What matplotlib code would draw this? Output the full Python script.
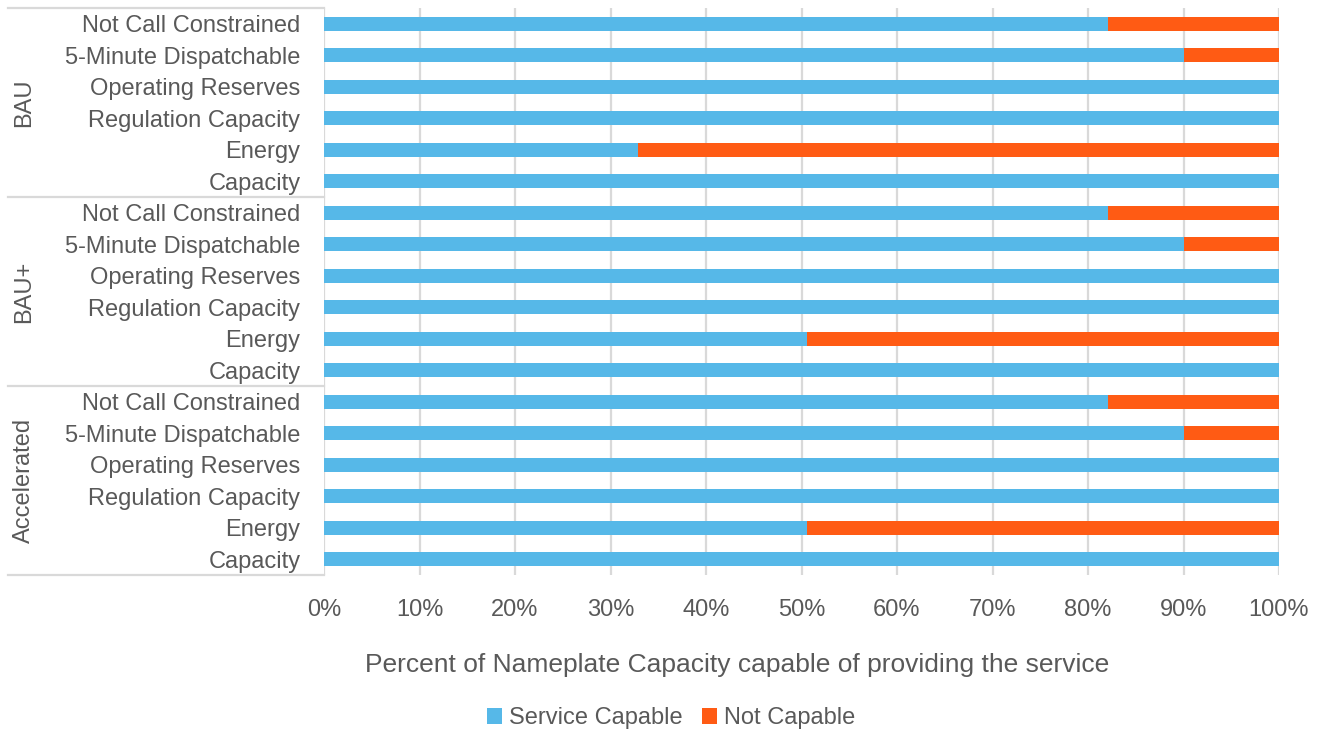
import matplotlib.pyplot as plt
from matplotlib.transforms import blended_transform_factory

plt.rcParams['font.family'] = ['Liberation Sans', 'DejaVu Sans']

groups = ["BAU", "BAU+", "Accelerated"]
services = ["Not Call Constrained", "5-Minute Dispatchable", "Operating Reserves",
            "Regulation Capacity", "Energy", "Capacity"]
capable = {
    "BAU":         [82.1, 90.0, 100, 100, 32.9, 100],
    "BAU+":        [82.1, 90.0, 100, 100, 50.6, 100],
    "Accelerated": [82.1, 90.0, 100, 100, 50.6, 100],
}
ticks = list(range(0, 101, 10))

blue = '#56B8E8'
orange = '#FF5B14'
txt = '#595959'
grid = '#d9d9d9'
fs = 17

fig = plt.figure(figsize=(13.2, 7.3), dpi=100)
ax = fig.add_axes([324/1320, 1-575/730, 955/1320, 567/730])

labels, cap, notcap = [], [], []
for g in groups:
    for s, v in zip(services, capable[g]):
        labels.append(s)
        cap.append(v)
        notcap.append(100 - v)
ypos = list(range(len(labels)))

ax.barh(ypos, cap, height=0.45, color=blue, label='Service Capable', zorder=3)
ax.barh(ypos, notcap, left=cap, height=0.45, color=orange, label='Not Capable', zorder=3)

ax.set_ylim(len(labels) - 0.5, -0.5)
ax.set_xlim(0, 100)
ax.set_xticks(ticks)
ax.set_xticklabels([f"{t}%" for t in ticks])
ax.set_yticks(ypos)
ax.set_yticklabels(labels)
ax.tick_params(axis='x', length=0, pad=17, labelsize=fs, labelcolor=txt)
ax.tick_params(axis='y', length=0, pad=17, labelsize=fs, labelcolor=txt)
for sp in ax.spines.values():
    sp.set_visible(False)
for t in ticks:
    ax.axvline(t, color=grid, lw=1.6, zorder=1)

# multi-level category axis on the left
tr = blended_transform_factory(ax.transAxes, ax.transData)
x0 = (8 - 324) / 955
n = len(services)
for i in range(len(groups) + 1):
    y = i * n - 0.5
    ax.plot([x0, 0], [y, y], color=grid, lw=1.6, transform=tr, clip_on=False)
for i, g in enumerate(groups):
    ax.text((24 - 324) / 955, i * n + (n - 1) / 2, g, transform=tr, rotation=90,
            ha='center', va='center', fontsize=fs, color=txt)

fig.text(737/1320, 1-665/730, "Percent of Nameplate Capacity capable of providing the service",
         ha='center', va='center', fontsize=19, color=txt)
leg = fig.legend(loc='center', bbox_to_anchor=(671/1320, 1-718/730), ncol=2, frameon=False,
                 fontsize=fs, handlelength=0.65, handleheight=0.65, handletextpad=0.3,
                 columnspacing=0.8)
for t in leg.get_texts():
    t.set_color(txt)

fig.savefig('out.png', dpi=100)
